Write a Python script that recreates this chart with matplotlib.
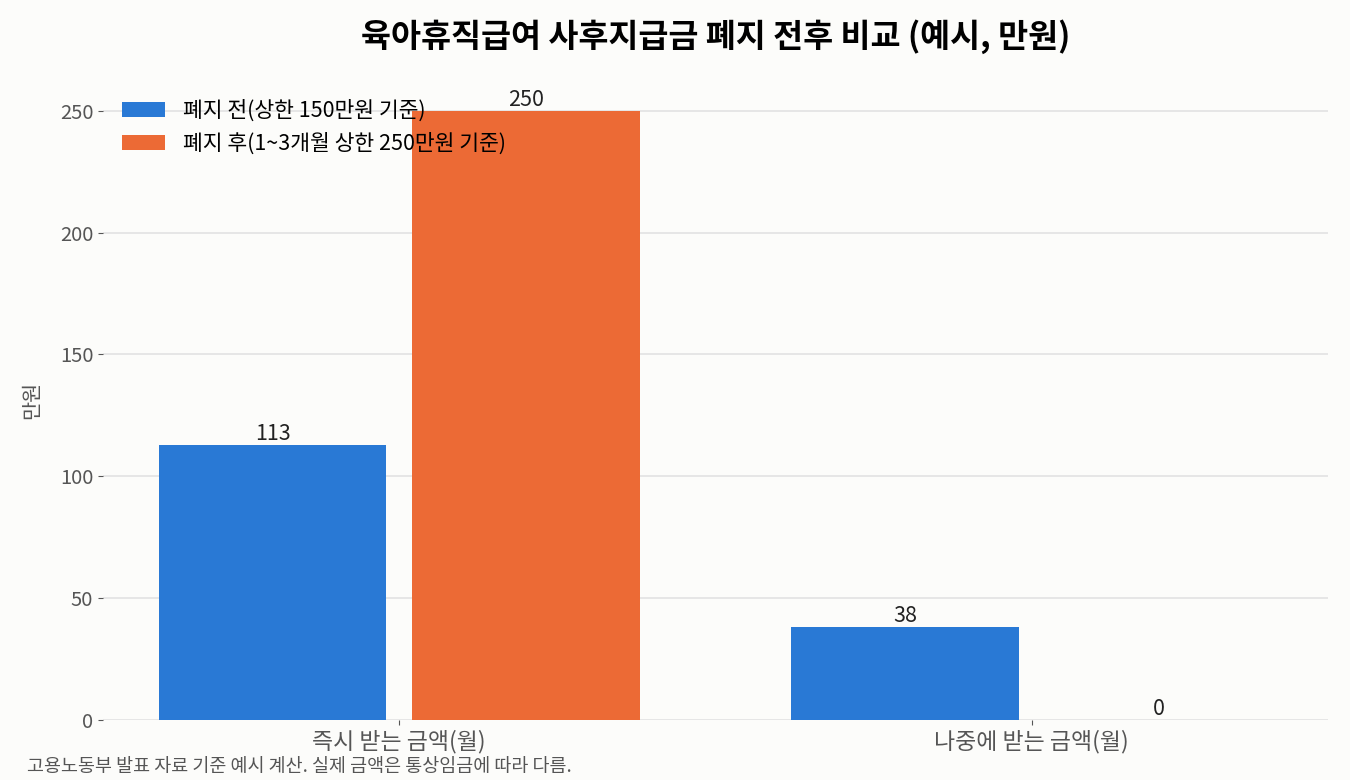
import matplotlib
matplotlib.use('Agg')
import matplotlib.pyplot as plt
import numpy as np

plt.rcParams['font.family'] = ['Noto Sans CJK KR', 'DejaVu Sans']

# 데이터
categories = ['즉시 받는 금액(월)', '나중에 받는 금액(월)']
before = [113, 38]
after = [250, 0]
label_before = '폐지 전(상한 150만원 기준)'
label_after = '폐지 후(1~3개월 상한 250만원 기준)'

bg = '#fcfcfa'
fig, ax = plt.subplots(figsize=(13.5, 7.8), dpi=100)
fig.patch.set_facecolor(bg)
ax.set_facecolor(bg)
fig.subplots_adjust(left=0.0763, right=0.9837, bottom=0.0769, top=0.897)

x = np.arange(len(categories))
w = 0.36
b1 = ax.bar(x - 0.2, before, w, color='#2979d5', label=label_before, zorder=3)
b2 = ax.bar(x + 0.2, after, w, color='#ec6a35', label=label_after, zorder=3)
ax.bar_label(b1, fmt='%d', padding=0, fontsize=15.5, color='#222222')
ax.bar_label(b2, fmt='%d', padding=0, fontsize=15.5, color='#222222')

ax.set_ylim(0, 262.5)
ax.set_xticks(x)
ax.set_xticklabels(categories, fontsize=16.5, color='#555555')
ax.tick_params(axis='y', labelsize=14.5, labelcolor='#555555', color='#555555')
ax.tick_params(axis='x', color='#555555')
ax.set_ylabel('만원', fontsize=15, color='#555555', labelpad=12)
ax.yaxis.grid(True, color='#e2e2e2', linewidth=1.2, zorder=0)
ax.set_axisbelow(True)
for s in ax.spines.values():
    s.set_visible(False)

ax.set_title('육아휴직급여 사후지급금 폐지 전후 비교 (예시, 만원)', fontsize=23.5,
             fontweight='bold', pad=24)
ax.legend(loc='upper left', frameon=False, fontsize=15.5)

fig.text(0.02, 0.01, '고용노동부 발표 자료 기준 예시 계산. 실제 금액은 통상임금에 따라 다름.',
         fontsize=13.3, color='#555555')

plt.savefig('out.png', dpi=100, facecolor=bg)
